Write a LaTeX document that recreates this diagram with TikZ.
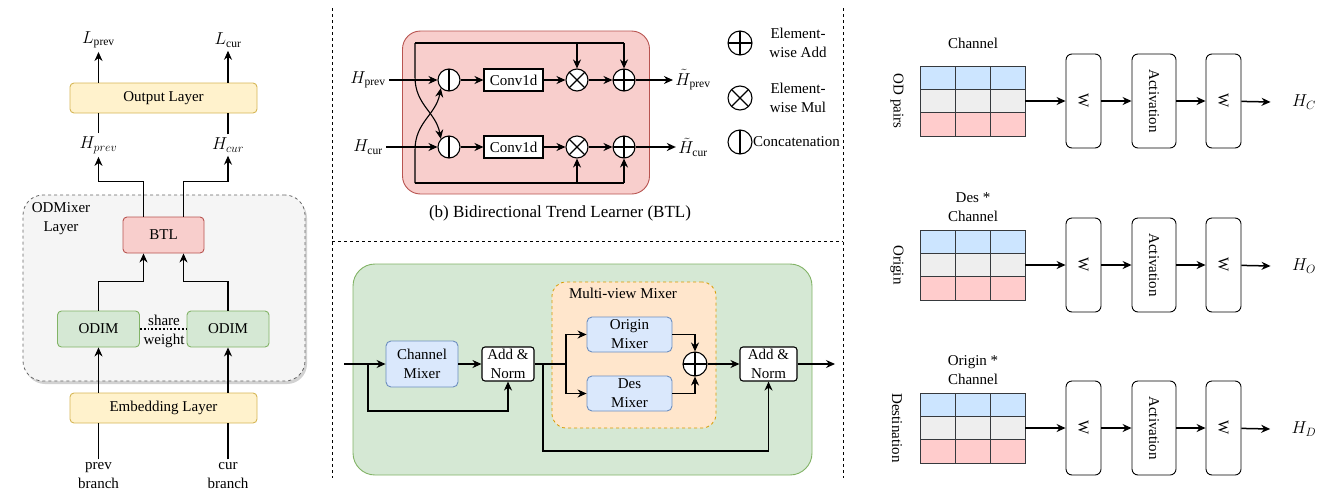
\documentclass[tikz,border=0pt]{standalone}
\usepackage{fontspec}
\setmainfont{Liberation Serif}
\usetikzlibrary{arrows.meta,positioning,shadows}

\definecolor{yelfill}{HTML}{FFF2CC}
\definecolor{yeldraw}{HTML}{D6B656}
\definecolor{redfill}{HTML}{F8CECC}
\definecolor{reddraw}{HTML}{B85450}
\definecolor{grnfill}{HTML}{D5E8D4}
\definecolor{grndraw}{HTML}{82B366}
\definecolor{blufill}{HTML}{DAE8FC}
\definecolor{bludraw}{HTML}{6C8EBF}
\definecolor{orgfill}{HTML}{FFE6CC}
\definecolor{orgdraw}{HTML}{D79B00}
\definecolor{gryfill}{HTML}{F5F5F5}
\definecolor{grydraw}{HTML}{666666}
\definecolor{cellblue}{HTML}{CCE5FF}
\definecolor{cellgrey}{HTML}{EEEEEE}
\definecolor{cellpink}{HTML}{FFCCCC}
\definecolor{celldraw}{HTML}{36393D}

\begin{document}
\begin{tikzpicture}[x=1pt,y=-1pt,
				every node/.style={font=\fontsize{15}{19}\selectfont},
				mathlab/.style={font=\fontsize{16.5}{19}\selectfont},
				arr/.style={-{Stealth[length=9pt,width=8pt]}, line width=1.1pt},
				bold/.style={line width=1.8pt},
				layerbox/.style={draw=yeldraw, fill=yelfill, rounded corners=4pt, line width=0.9pt, minimum width=187pt, minimum height=30pt},
				btlbox/.style={draw=reddraw, fill=redfill, rounded corners=4pt, line width=0.9pt, minimum width=81pt, minimum height=36pt},
				odimbox/.style={draw=grndraw, fill=grnfill, rounded corners=4pt, line width=0.9pt, minimum width=82pt, minimum height=36pt},
				mixer/.style={draw=bludraw, fill=blufill, rounded corners=5pt, line width=0.9pt, align=center, inner sep=1pt},
				norm/.style={draw, fill=white, rounded corners=3pt, line width=1.1pt, align=center, inner sep=1pt, minimum height=34pt},
				convbox/.style={draw, fill=white, line width=1.1pt, minimum width=59pt, minimum height=22pt, inner sep=1pt},
				opcirc/.style={circle, draw, fill=white, line width=1.1pt, minimum size=22pt, inner sep=0pt},
				catop/.style={opcirc, path picture={\draw[line width=1.1pt] (path picture bounding box.north) -- (path picture bounding box.south);}},
				addop/.style={opcirc, path picture={\draw[line width=1.1pt] (path picture bounding box.north) -- (path picture bounding box.south) (path picture bounding box.west) -- (path picture bounding box.east);}},
				mulop/.style={opcirc, path picture={\draw[line width=1.1pt] (path picture bounding box.north west) -- (path picture bounding box.south east) (path picture bounding box.north east) -- (path picture bounding box.south west);}},
				cell/.style={draw=celldraw, line width=0.9pt, minimum width=35pt, minimum height=23.33pt, inner sep=0pt},
				wbox/.style={draw, fill=white, rounded corners=6pt, line width=0.9pt, minimum width=35pt, minimum height=94pt, inner sep=0pt},
				actbox/.style={wbox, minimum width=44pt},
				sep/.style={dash pattern=on 3pt off 3pt, line width=0.8pt}
				]
				\useasboundingbox (0,0) rectangle (1340,501);

				% separators
				\draw[sep] (332,8) -- (332,478);
				\draw[sep] (843,8) -- (843,478);
				\draw[sep] (332,241) -- (843,241);

				% (a) ODMixer overview
				\node[draw=grydraw, fill=gryfill, dashed, rounded corners=20pt, line width=0.8pt,
					minimum width=282pt, minimum height=186pt,
					drop shadow={shadow xshift=2pt, shadow yshift=-3pt, fill=gray!70}] (odlayer) at (164,288) {};
				\node[align=center] (odlabel) at (61,219) {ODMixer\\Layer};
				\node[layerbox] (outlayer) at (163.5,98) {Output Layer};
				\node[mathlab] (lprev) at (98.5,40) {$L_{\mathrm{prev}}$};
				\node[mathlab] (lcur) at (228,40) {$L_{\mathrm{cur}}$};
				\node[mathlab] (hprev) at (98.5,145) {$H_{prev}$};
				\node[mathlab] (hcur) at (228,145) {$H_{cur}$};
				\node[btlbox] (btl) at (163.5,235) {BTL};
				\node[odimbox] (odimp) at (98.5,329) {ODIM};
				\node[odimbox] (odimc) at (228,329) {ODIM};
				\node[layerbox] (emb) at (163.5,408) {Embedding Layer};
				\node[align=center] (prevb) at (98.5,476) {prev\\branch};
				\node[align=center] (curb) at (228,476) {cur\\branch};

				\draw[arr] (outlayer.north -| lprev) -- (lprev.south);
				\draw[arr] (outlayer.north -| lcur) -- (lcur.south);
				\draw[line width=1.1pt] (hprev.north) -- (outlayer.south -| hprev);
				\draw[line width=1.1pt] (hcur.north) -- (outlayer.south -| hcur);
				\draw[arr] ([xshift=-20pt]btl.north) -- ++(0,-35) -| (hprev.south);
				\draw[arr] ([xshift=20pt]btl.north) -- ++(0,-35) -| (hcur.south);
				\draw[arr] (odimp.north) -- ++(0,-29) -| ([xshift=-20pt]btl.south);
				\draw[arr] (odimc.north) -- ++(0,-29) -| ([xshift=20pt]btl.south);
				\draw[line width=1.8pt, dotted] (odimp.east) -- (odimc.west);
				\node[align=center] (share) at (164,331) {share\\weight};
				\draw[arr] (emb.north -| odimp) -- (odimp.south);
				\draw[arr] (emb.north -| odimc) -- (odimc.south);
				\draw[line width=1.1pt] (prevb.north) -- (emb.south -| prevb);
				\draw[line width=1.1pt] (curb.north) -- (emb.south -| curb);

				% (b) BTL
				\node[draw=reddraw, fill=redfill, rounded corners=18pt, line width=0.9pt,
					minimum width=247pt, minimum height=163pt] (btlpanel) at (526,112.5) {};
				\node[mathlab] (hinp) at (368,80) {$H_{\mathrm{prev}}$};
				\node[mathlab] (hinc) at (368,147) {$H_{\mathrm{cur}}$};
				\node[catop] (catp) at (449,80) {};
				\node[catop] (catc) at (449,147) {};
				\node[convbox] (convp) at (513.5,80) {Conv1d};
				\node[convbox] (convc) at (513.5,147) {Conv1d};
				\node[mulop] (mulp) at (577,80) {};
				\node[mulop] (mulc) at (577,147) {};
				\node[addop] (addp) at (624,80) {};
				\node[addop] (addc) at (624,147) {};
				\node[mathlab] (houtp) at (693,80) {$\tilde{H}_{\mathrm{prev}}$};
				\node[mathlab] (houtc) at (693,147) {$\tilde{H}_{\mathrm{cur}}$};
				\coordinate (fbtop) at (415,43);
				\coordinate (fbbot) at (415,183);

				\draw[arr] (hinp) -- (catp);
				\draw[arr] (hinc) -- (catc);
				\draw[arr, bold] (catp) -- (convp);
				\draw[arr, bold] (catc) -- (convc);
				\draw[arr] (convp) -- (mulp);
				\draw[arr] (convc) -- (mulc);
				\draw[arr, bold] (mulp) -- (addp);
				\draw[arr, bold] (mulc) -- (addc);
				\draw[arr, bold] (addp) -- ([xshift=1pt]houtp.west);
				\draw[arr, bold] (addc) -- ([xshift=1pt]houtc.west);
				\draw[line width=1.1pt] (fbtop) -- (fbtop -| addp);
				\draw[line width=1.1pt] (fbbot) -- (fbbot -| addc);
				\draw[arr] (fbtop -| mulp) -- (mulp.north);
				\draw[arr] (fbtop -| addp) -- (addp.north);
				\draw[arr] (fbbot -| mulc) -- (mulc.south);
				\draw[arr] (fbbot -| addc) -- (addc.south);
				\draw[arr] (fbtop) -- (415,77) .. controls (415,105) and (436,112) .. (catc.north west);
				\draw[arr] (fbbot) -- (415,150) .. controls (415,122) and (436,115) .. (catp.south west);

				% legend
				\node[addop, minimum size=24pt] (lgadd) at (740,43) {};
				\node[align=center] (lgaddt) at (798,43) {Element-\\wise Add};
				\node[mulop, minimum size=24pt] (lgmul) at (740,98) {};
				\node[align=center] (lgmult) at (798,98) {Element-\\wise Mul};
				\node[catop, minimum size=24pt] (lgcat) at (740,142) {};
				\node[anchor=west, inner sep=0pt] (lgcatt) at (753,142) {Concatenation};
				\node (btlcap) at (560,213) {\fontsize{17}{20}\selectfont (b) Bidirectional Trend Learner (BTL)};

				% ODIM detail
				\node[draw=grndraw, fill=grnfill, rounded corners=22pt, line width=0.9pt,
					minimum width=459pt, minimum height=211pt] (odimpanel) at (582.5,369.5) {};
				\node[draw=orgdraw, fill=orgfill, dashed, rounded corners=14pt, line width=0.8pt,
					minimum width=164pt, minimum height=146pt] (mvpanel) at (634,355) {};
				\node (mvlabel) at (623,293) {Multi-view Mixer};
				\node[mixer, minimum width=72pt, minimum height=46pt] (chmix) at (422,364) {Channel\\Mixer};
				\node[norm, minimum width=52pt] (norma) at (508,364) {Add \&\\Norm};
				\node[mixer, minimum width=85pt, minimum height=35pt] (orgmix) at (629.5,334.5) {Origin\\Mixer};
				\node[mixer, minimum width=85pt, minimum height=35pt] (desmix) at (629.5,393.5) {Des\\Mixer};
				\node[addop, minimum size=24pt] (mvadd) at (695,364) {};
				\node[norm, minimum width=57pt] (normb) at (768.5,364) {Add \&\\Norm};
				\coordinate (odin) at (344,364);
				\coordinate (odout) at (835,364);
				\coordinate (resa) at (368,364);
				\coordinate (resb) at (543,364);
				\coordinate (split) at (566,364);

				\draw[arr] (odin) -- (chmix);
				\draw[arr] (resa) -- ++(0,47) -| (norma.south);
				\draw[arr] (chmix) -- (norma);
				\draw[line width=1.1pt] (norma) -- (split);
				\draw[arr] (split) |- (orgmix.west);
				\draw[arr] (split) |- (desmix.west);
				\draw[arr] (orgmix.east) -| (mvadd.north);
				\draw[arr] (desmix.east) -| (mvadd.south);
				\draw[arr, bold] (mvadd) -- (normb);
				\draw[arr] (normb) -- (odout);
				\draw[arr] (resb) -- ++(0,87) -| (normb.south);

				% mixers (right)
				\foreach \cy/\toplab/\sidelab/\hlab/\nm in {101/Channel/OD pairs/C/c, 265/{Des *\\Channel}/Origin/O/o, 428/{Origin *\\Channel}/Destination/D/d}{
					\foreach \r/\col in {0/cellblue,1/cellgrey,2/cellpink}
						\foreach \c in {0,1,2}
							\node[cell, fill=\col] (cell\nm\r\c) at (937.5+35*\c, \cy-23.33+23.33*\r) {};
					\node[align=center] (top\nm) at (973,\cy-58) {\toplab};
					\node[rotate=-90] (side\nm) at (897,\cy) {\sidelab};
					\node[wbox] (wa\nm) at (1083.5,\cy) {\rotatebox{-90}{W}};
					\node[actbox] (act\nm) at (1154,\cy) {\rotatebox{-90}{Activation}};
					\node[wbox] (wb\nm) at (1223.5,\cy) {\rotatebox{-90}{W}};
					\node[mathlab] (h\nm) at (1304,\cy+1) {$H_{\hlab}$};
					\draw[arr] (cell\nm12.east) -- (wa\nm);
					\draw[arr] (wa\nm) -- (act\nm);
					\draw[arr] (act\nm) -- (wb\nm);
					\draw[arr, line width=1.5pt] (wb\nm) -- ([xshift=-18pt]h\nm.west);
				}
			\end{tikzpicture}
\end{document}
